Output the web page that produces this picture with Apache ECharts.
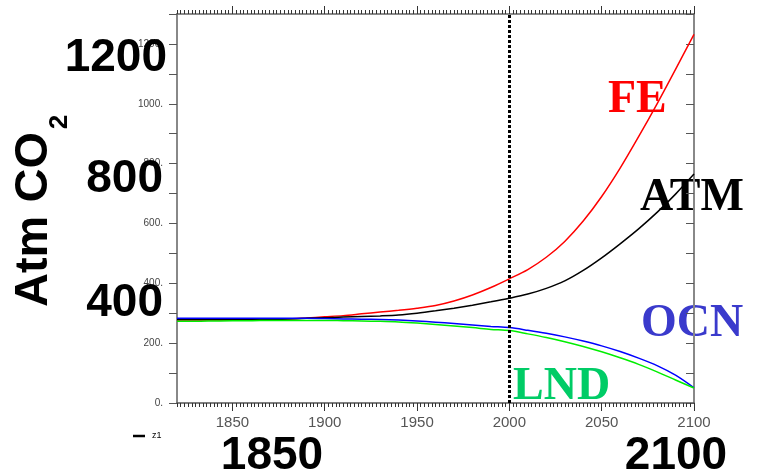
<!DOCTYPE html>
<html>
<head>
<meta charset="utf-8">
<script src="https://cdn.jsdelivr.net/npm/echarts@6/dist/echarts.min.js"></script>
<style>
  html, body { margin: 0; padding: 0; background: #fff; }
  #chart { width: 757px; height: 475px; }
</style>
</head>
<body>
<div id="chart"></div>
<script>
// years along the x axis
const years = [1820, 1830, 1840, 1850, 1860, 1870, 1880, 1890, 1900, 1910, 1920, 1930, 1940,
  1950, 1960, 1970, 1980, 1990, 2000, 2010, 2020, 2030, 2040, 2050, 2060, 2070, 2080, 2090, 2100];

// series values
const feVals = [277, 277, 277, 277, 278, 279, 281, 284, 288, 292, 298, 304, 310,
  317, 326, 341, 361, 386, 415, 446, 487, 540, 608, 690, 785, 890, 1000, 1115, 1232];
const atmVals = [279, 279, 279, 279, 280, 280, 281, 283, 285, 287, 289, 291, 294,
  300, 308, 317, 327, 338, 350, 364, 383, 408, 443, 485, 532, 582, 637, 698, 765];
const ocnVals = [283, 283, 283, 283, 283, 283, 283, 283, 282, 281, 280, 279, 277,
  274, 270, 266, 261, 256, 252, 243, 233, 221, 207, 191, 172, 150, 125, 93, 51];
const lndVals = [273, 273, 274, 275, 275, 276, 276, 276, 276, 275, 274, 273, 271,
  267, 262, 257, 252, 246, 242, 231, 219, 205, 189, 171, 151, 129, 104, 77, 50];

// tick labels
const xTicks = [1850, 1900, 1950, 2000, 2050, 2100];
const yLabelStep = 200;
const markYear = 2000;

function pairs(vals) {
  return years.map((y, i) => [y, vals[i]]);
}

const chart = echarts.init(document.getElementById('chart'), null, { renderer: 'canvas' });

const lineSeries = (name, vals, color) => ({
  name: name,
  type: 'line',
  data: pairs(vals),
  showSymbol: false,
  smooth: 0.3,
  lineStyle: { color: color, width: 1.5 },
  z: 3
});

const fe = lineSeries('FE', feVals, '#ff0000');
fe.markLine = {
  silent: true,
  symbol: 'none',
  label: { show: false },
  lineStyle: { color: '#000', type: [3, 2], width: 3 },
  data: [{ xAxis: markYear }]
};

const bigSans = 'bold 46px "Liberation Sans", Arial, sans-serif';
const bigSerif = 'bold 46px "Liberation Serif", "Times New Roman", serif';

chart.setOption({
  backgroundColor: '#fff',
  animation: false,
  grid: { left: 177, right: 63, top: 14, bottom: 72 },
  xAxis: [
    {
      type: 'value', position: 'bottom', min: 1820, max: 2100,
      axisLine: { show: true, lineStyle: { color: '#555', width: 1.5 } },
      axisTick: { show: true, customValues: xTicks, length: 8, lineStyle: { color: '#333' } },
      axisLabel: { customValues: xTicks, color: '#555', fontSize: 15, margin: 12,
        fontFamily: '"Liberation Sans", Arial, sans-serif',
        formatter: v => String(v) },
      splitLine: { show: false }
    },
    {
      type: 'value', position: 'bottom', min: 1820, max: 2100, interval: 2,
      axisLine: { show: false },
      axisTick: { show: true, length: 4, lineStyle: { color: '#333' } },
      axisLabel: { show: false },
      splitLine: { show: false }
    },
    {
      type: 'value', position: 'top', min: 1820, max: 2100,
      axisLine: { show: true, lineStyle: { color: '#666', width: 1.5 } },
      axisTick: { show: true, customValues: xTicks, length: 8, lineStyle: { color: '#333' } },
      axisLabel: { show: false },
      splitLine: { show: false }
    },
    {
      type: 'value', position: 'top', min: 1820, max: 2100, interval: 2,
      axisLine: { show: false },
      axisTick: { show: true, length: 4, lineStyle: { color: '#333' } },
      axisLabel: { show: false },
      splitLine: { show: false }
    }
  ],
  yAxis: [
    {
      type: 'value', position: 'left', min: 0, max: 1300, interval: 100,
      axisLine: { show: true, lineStyle: { color: '#888', width: 2 } },
      axisTick: { show: true, length: 8, lineStyle: { color: '#555' } },
      axisLabel: {
        color: '#444', fontSize: 10, margin: 14,
        fontFamily: '"Liberation Sans", Arial, sans-serif',
        formatter: v => (v % yLabelStep === 0 ? v + '.' : '')
      },
      splitLine: { show: false }
    },
    {
      type: 'value', position: 'right', min: 0, max: 1300, interval: 100,
      axisLine: { show: true, lineStyle: { color: '#888', width: 2 } },
      axisTick: { show: true, inside: true, length: 8, lineStyle: { color: '#555' } },
      axisLabel: { show: false },
      splitLine: { show: false }
    }
  ],
  series: [
    fe,
    lineSeries('ATM', atmVals, '#000000'),
    lineSeries('OCN', ocnVals, '#0000ff'),
    lineSeries('LND', lndVals, '#00ee00')
  ],
  graphic: [
    // series names drawn under the axes
    { type: 'text', z: -1, x: 608, y: 100, style: { text: 'FE', font: bigSerif, fill: '#ff0000', textVerticalAlign: 'middle' } },
    { type: 'text', z: -1, x: 640, y: 198, style: { text: 'ATM', font: bigSerif, fill: '#000', textVerticalAlign: 'middle' } },
    { type: 'text', z: -1, x: 641, y: 324, style: { text: 'OCN', font: bigSerif, fill: '#3a3acc', textVerticalAlign: 'middle' } },
    { type: 'text', z: -1, x: 513, y: 387, style: { text: 'LND', font: bigSerif, fill: '#00cc66', textVerticalAlign: 'middle' } },
    // big axis annotations
    { type: 'text', z: 100, x: 34, y: 307, rotation: Math.PI / 2,
      style: { text: 'Atm CO', font: 'bold 47px "Liberation Sans", Arial, sans-serif', fill: '#000', textAlign: 'left', textVerticalAlign: 'middle' } },
    { type: 'text', z: 100, x: 60, y: 122, rotation: Math.PI / 2,
      style: { text: '2', font: 'bold 26px "Liberation Sans", Arial, sans-serif', fill: '#000', textAlign: 'center', textVerticalAlign: 'middle' } },
    { type: 'text', z: 100, x: 167, y: 58, style: { text: '1200', font: bigSans, fill: '#000', textAlign: 'right', textVerticalAlign: 'middle' } },
    { type: 'text', z: 100, x: 163, y: 179, style: { text: '800', font: bigSans, fill: '#000', textAlign: 'right', textVerticalAlign: 'middle' } },
    { type: 'text', z: 100, x: 163, y: 303, style: { text: '400', font: bigSans, fill: '#000', textAlign: 'right', textVerticalAlign: 'middle' } },
    { type: 'text', z: 100, x: 272, y: 456, style: { text: '1850', font: bigSans, fill: '#000', textAlign: 'center', textVerticalAlign: 'middle' } },
    { type: 'text', z: 100, x: 676, y: 456, style: { text: '2100', font: bigSans, fill: '#000', textAlign: 'center', textVerticalAlign: 'middle' } },
    // small legend key
    { type: 'line', z: 100, shape: { x1: 133, y1: 436, x2: 145, y2: 436 }, style: { stroke: '#000', lineWidth: 2.5 } },
    { type: 'text', z: 100, x: 152, y: 436, style: { text: 'z1', font: '9px "Liberation Sans", Arial, sans-serif', fill: '#000', textVerticalAlign: 'middle' } }
  ]
});

window.addEventListener('resize', () => {
  chart.resize();
});
</script>
</body>
</html>
